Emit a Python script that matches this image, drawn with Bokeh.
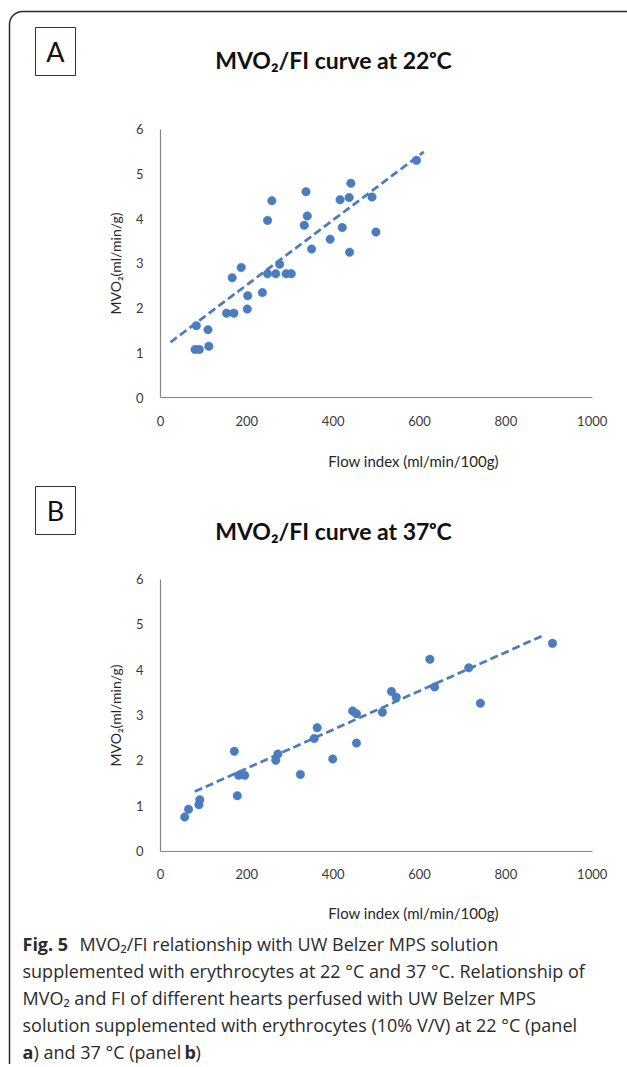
from bokeh.plotting import figure
from bokeh.models import Range1d, Label, BoxAnnotation, FixedTicker, LinearAxis
from bokeh.embed import file_html
from bokeh.resources import INLINE

# ---------------- data ----------------
x_ticks = [0, 200, 400, 600, 800, 1000]
y_ticks = [0, 1, 2, 3, 4, 5, 6]

# Panel A : 22 °C
a_flow = [80, 90, 83, 110, 112, 153, 170, 166, 187, 201, 202, 236, 248, 267, 276, 291,
          303, 248, 258, 337, 340, 333, 350, 393, 416, 437, 441, 421, 438, 490, 499, 593]
a_mvo2 = [1.08, 1.08, 1.61, 1.52, 1.15, 1.89, 1.89, 2.68, 2.91, 1.98, 2.28, 2.35, 2.77, 2.77,
          2.98, 2.77, 2.77, 3.96, 4.40, 4.60, 4.06, 3.85, 3.32, 3.54, 4.42, 4.47, 4.79, 3.80,
          3.25, 4.48, 3.70, 5.30]
a_trend_flow = [23, 610]
a_trend_mvo2 = [1.24, 5.49]

# Panel B : 37 °C
b_flow = [56, 65, 89, 91, 171, 178, 181, 195, 267, 272, 324, 356, 363, 399, 445, 454, 454,
          514, 535, 546, 624, 635, 714, 741, 908]
b_mvo2 = [0.75, 0.92, 1.02, 1.13, 2.20, 1.22, 1.67, 1.67, 2.00, 2.14, 1.69, 2.48, 2.72, 2.03,
          3.09, 3.03, 2.38, 3.06, 3.52, 3.39, 4.23, 3.62, 4.04, 3.26, 4.58]
b_trend_flow = [79.5, 890]
b_trend_mvo2 = [1.31, 4.77]

titles = ["MVO₂/FI curve at 22ᵒC", "MVO₂/FI curve at 37ᵒC"]
letters = ["A", "B"]
x_title = "Flow index (ml/min/100g)"
y_title = "MVO₂(ml/min/g)"

caption_lines = [
    "supplemented with erythrocytes at 22 °C and 37 °C. Relationship of",
    "MVO₂ and FI of different hearts perfused with UW Belzer MPS",
    "solution supplemented with erythrocytes (10% V/V) at 22 °C (panel",
]

FONT = "Lato"
BLUE = "#4a7dbf"
W, H = 627, 1064

# one canvas; the default ranges are pixel positions (y downward) for the decorations
p = figure(width=W, height=H, x_range=Range1d(0, W), y_range=Range1d(H, 0),
           x_axis_type=None, y_axis_type=None, min_border=0,
           toolbar_location=None, output_backend="svg", title=None)
p.outline_line_color = None
p.grid.visible = False
p.background_fill_color = "white"
p.border_fill_color = "white"


def lin_range(v0, p0, v1, p1, total):
    """Range whose values v0, v1 fall on pixels p0, p1 of a canvas side of length total."""
    k = (p1 - p0) / (v1 - v0)
    return Range1d(v0 - p0 / k, v0 + (total - p0) / k)


def panel(name, flow, mvo2, tflow, tmvo2, y0_px, y6_px, letter, title, title_y, box_top,
          xtitle_y):
    xr, yr = "flow" + name, "mvo" + name
    p.extra_x_ranges[xr] = lin_range(0, 160, 1000, 591.7, W)
    k = (y0_px - y6_px) / 6.0
    p.extra_y_ranges[yr] = Range1d(-(H - y0_px) / k, y0_px / k)

    xa = LinearAxis(x_range_name=xr, y_range_name=yr, fixed_location=0, bounds=(0, 1000),
                    ticker=FixedTicker(ticks=x_ticks))
    ya = LinearAxis(x_range_name=xr, y_range_name=yr, fixed_location=0, bounds=(0, 6),
                    ticker=FixedTicker(ticks=y_ticks))
    for ax in (xa, ya):
        ax.major_tick_line_color = None
        ax.minor_tick_line_color = None
        ax.major_tick_out = 0
        ax.major_tick_in = 0
        ax.minor_tick_out = 0
        ax.axis_line_color = "#868686"
        ax.axis_line_width = 1.2
        ax.major_label_text_font = FONT
        ax.major_label_text_font_size = "13px"
        ax.major_label_text_color = "#3a3a3a"
    xa.major_label_standoff = 18
    ya.major_label_standoff = 17
    ya.axis_label = y_title
    ya.axis_label_text_font = FONT
    ya.axis_label_text_font_style = "normal"
    ya.axis_label_text_font_size = "14px"
    ya.axis_label_text_color = "#262626"
    ya.axis_label_standoff = 9
    p.add_layout(xa, "below")
    p.add_layout(ya, "left")

    p.line(tflow, tmvo2, x_range_name=xr, y_range_name=yr, line_color=BLUE,
           line_width=2.75, line_dash="8 4")
    p.scatter(flow, mvo2, x_range_name=xr, y_range_name=yr, size=8.5, fill_color=BLUE,
              line_color="#4575b4", line_width=0.5)

    p.add_layout(Label(x=413, y=xtitle_y, text=x_title, text_align="center",
                       text_baseline="middle", text_font=FONT, text_font_size="15px",
                       text_color="#262626"))
    p.add_layout(Label(x=333, y=title_y, text=title, text_align="center",
                       text_baseline="middle", text_font=FONT, text_font_size="23px",
                       text_font_style="bold", text_color="#111111"))
    p.add_layout(BoxAnnotation(left=35, right=75, top=box_top, bottom=box_top + 48,
                               fill_color=None, line_color="#333333", line_alpha=1.0,
                               line_width=1))
    p.add_layout(Label(x=55, y=box_top + 24, text=letter, text_align="center",
                       text_baseline="middle", text_font=FONT, text_font_size="27px",
                       text_color="#111111"))


panel("A", a_flow, a_mvo2, a_trend_flow, a_trend_mvo2, 397.3, 128.5, letters[0], titles[0],
      59, 27, 460)
panel("B", b_flow, b_mvo2, b_trend_flow, b_trend_mvo2, 850.5, 578.5, letters[1], titles[1],
      530, 486, 912)

# outer rounded frame (its right and bottom edges are outside the picture)
p.add_layout(BoxAnnotation(left=9, right=W + 40, top=11, bottom=H + 60, fill_color=None,
                           line_color="#2a2a2a", line_alpha=1.0, line_width=1.5,
                           border_radius=13))

# caption
CAP_FONT = "Open Sans"
CAP_SIZE = "18px"
CAP_COLOR = "#2b2b2b"


def cap(x, y, text, bold=False):
    p.add_layout(Label(x=x, y=y, text=text, text_baseline="middle", text_font=CAP_FONT,
                       text_font_size=CAP_SIZE, text_color=CAP_COLOR,
                       text_font_style="bold" if bold else "normal"))


cap(22, 943, "Fig. 5", bold=True)
cap(79, 943, "MVO₂/FI relationship with UW Belzer MPS solution")
for i, line in enumerate(caption_lines):
    cap(22, 970 + 27 * i, line)
cap(22, 1051, "a", bold=True)
cap(33, 1051, ") and 37 °C (panel")
cap(184, 1051, "b", bold=True)
cap(195, 1051, ")")

open("out.html", "w").write(file_html(p, INLINE))
